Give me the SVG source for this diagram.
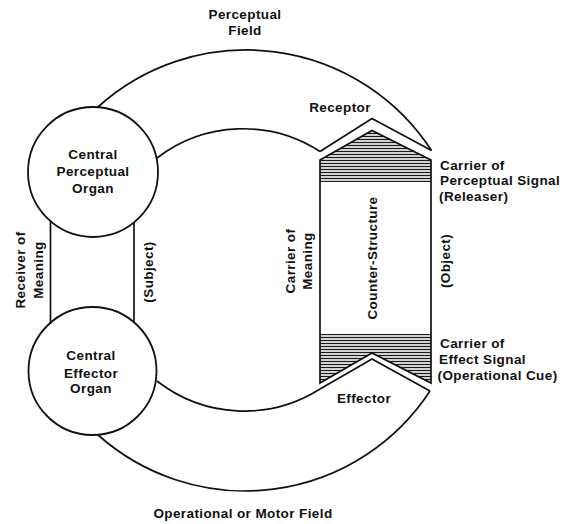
<svg xmlns="http://www.w3.org/2000/svg" width="564" height="524" viewBox="0 0 564 524">
<defs>
<pattern id="hatch" width="8" height="3" patternUnits="userSpaceOnUse">
<rect width="8" height="3" fill="#fff"/>
<line x1="0" y1="1.5" x2="8" y2="1.5" stroke="#1a1a1a" stroke-width="1.4"/>
</pattern>
<style>
.ln{fill:none;stroke:#111;stroke-width:1.7;stroke-linejoin:miter}
.org{fill:#fff;stroke:#111;stroke-width:1.8}
.t{font-family:"Liberation Sans",Arial,sans-serif;font-size:13.5px;font-weight:bold;fill:#111;letter-spacing:0.4px}
.c{text-anchor:middle}
</style>
</defs>
<rect width="564" height="524" fill="#fff"/>

<g id="connectors">
<line class="ln" x1="50.5" y1="215" x2="50.5" y2="330"/>
<line class="ln" x1="134" y1="215" x2="134" y2="330"/>
<path class="ln" d="M98,107 A221,221 0 0,1 431.5,150.5"/>
<path class="ln" d="M157,158 A141.5,141.5 0 0,1 320,151.5"/>
<path class="ln" d="M430,391 A221,221 0 0,1 97,434"/>
<path class="ln" d="M320,389 A141.5,141.5 0 0,1 157,381"/>
</g>

<g id="perceptual-organ">
<circle class="org" cx="93" cy="172" r="65"/>
<text class="t c" x="93" y="159">Central</text>
<text class="t c" x="93" y="176">Perceptual</text>
<text class="t c" x="93" y="193">Organ</text>
</g>

<g id="effector-organ">
<circle class="org" cx="92.5" cy="371" r="64"/>
<text class="t c" x="91" y="360">Central</text>
<text class="t c" x="91" y="377.5">Effector</text>
<text class="t c" x="91" y="393">Organ</text>
</g>

<g id="receptor">
<polyline class="ln" points="320,151.5 372,118.5 431.5,150.5"/>
<text class="t c" x="340" y="112">Receptor</text>
</g>

<g id="effector">
<polyline class="ln" points="320,389 372,359 430,391"/>
<text class="t c" x="364" y="402.5">Effector</text>
</g>

<g id="counter-structure">
<polygon points="320,160 372,130.5 431,160 431,182 320,182" fill="url(#hatch)"/>
<polygon points="320,334 431,334 431,383 372,353 320,383" fill="url(#hatch)"/>
<polygon class="ln" points="320,160 372,130.5 431,160 431,383 372,353 320,383"/>
<text class="t c" transform="translate(376.5,258) rotate(-90)">Counter-Structure</text>
</g>

<g id="labels">
<text class="t c" x="245" y="18.5">Perceptual</text>
<text class="t c" x="245" y="34.5">Field</text>
<text class="t c" x="243" y="518">Operational or Motor Field</text>
<text class="t c" transform="translate(25,270) rotate(-90)">Receiver of</text>
<text class="t c" transform="translate(42.5,270) rotate(-90)">Meaning</text>
<text class="t c" transform="translate(152.5,272) rotate(-90)">(Subject)</text>
<text class="t c" transform="translate(295,261) rotate(-90)">Carrier of</text>
<text class="t c" transform="translate(311.5,261) rotate(-90)">Meaning</text>
<text class="t c" transform="translate(449.5,261) rotate(-90)">(Object)</text>
<text class="t" x="440" y="169.5">Carrier of</text>
<text class="t" x="440" y="185">Perceptual Signal</text>
<text class="t" x="439" y="201">(Releaser)</text>
<text class="t" x="440" y="347.5">Carrier of</text>
<text class="t" x="439" y="363.5">Effect Signal</text>
<text class="t" x="437.5" y="380">(Operational Cue)</text>
</g>
</svg>
